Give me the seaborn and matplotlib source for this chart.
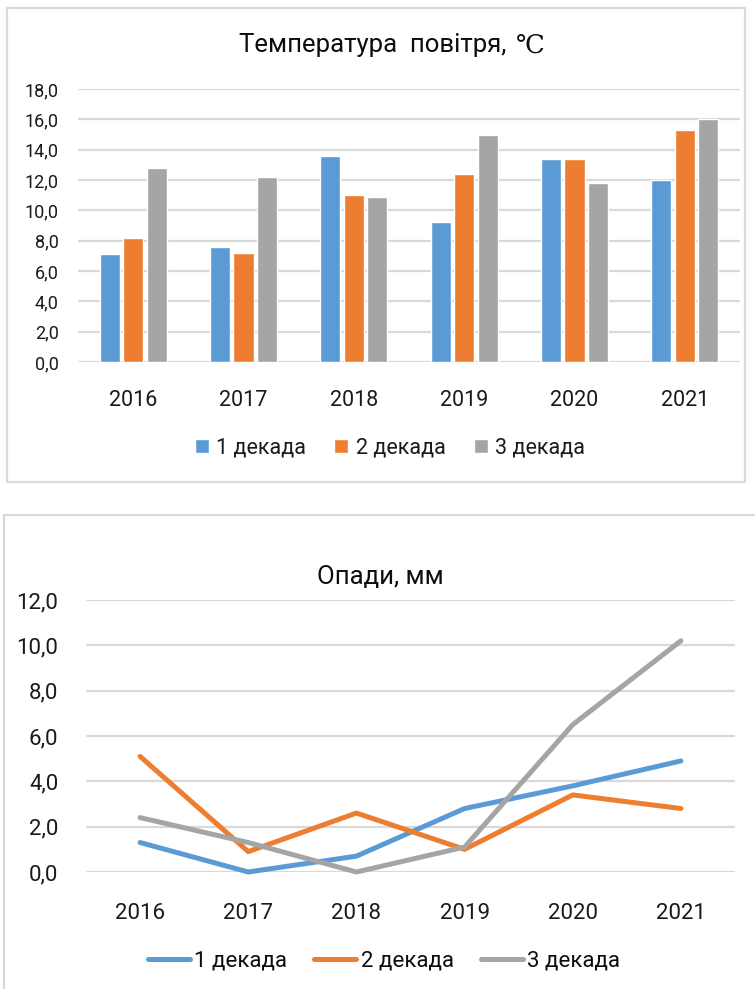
import matplotlib
matplotlib.use('agg')
from matplotlib import pyplot as plt
from matplotlib.patches import Rectangle
from matplotlib.ticker import FuncFormatter
import seaborn as sns
import pandas as pd

years = ['2016', '2017', '2018', '2019', '2020', '2021']
decades = ['1 декада', '2 декада', '3 декада']

# air temperature, deg C
temp_d1 = [7.1, 7.6, 13.6, 9.2, 13.4, 12.0]
temp_d2 = [8.2, 7.2, 11.0, 12.4, 13.4, 15.3]
temp_d3 = [12.8, 12.2, 10.9, 15.0, 11.8, 16.0]

# precipitation, mm
rain_d1 = [1.3, 0.0, 0.7, 2.8, 3.8, 4.9]
rain_d2 = [5.1, 0.9, 2.6, 1.0, 3.4, 2.8]
rain_d3 = [2.4, 1.3, 0.0, 1.1, 6.5, 10.2]

colors = ['#5B9BD5', '#ED7D31', '#A5A5A5']
grid_color = '#D9D9D9'


def long_table(series):
    rows = []
    for name, vals in zip(decades, series):
        for y, v in zip(years, vals):
            rows.append({'year': y, 'decade': name, 'value': v})
    return pd.DataFrame(rows)


temp_df = long_table([temp_d1, temp_d2, temp_d3])
rain_df = long_table([rain_d1, rain_d2, rain_d3])

sns.set_style('white')
plt.rcParams['font.family'] = ['Roboto', 'DejaVu Sans']
plt.rcParams['lines.solid_capstyle'] = 'round'

W, H = 755, 989
fig = plt.figure(figsize=(W / 100, H / 100), dpi=100)


def px_axes(left, top, right, bottom):
    return fig.add_axes([left / W, 1 - bottom / H, (right - left) / W, (bottom - top) / H])


def comma(v, pos):
    return f'{v:.1f}'.replace('.', ',')


def style_axes(ax, ymax, ytick_size, ypad, xpad):
    ax.set_ylim(0, ymax)
    ax.set_yticks(range(0, ymax + 1, 2))
    ax.yaxis.set_major_formatter(FuncFormatter(comma))
    ax.set_xlim(-0.5, 5.5)
    ax.grid(axis='y', color=grid_color, linewidth=1.6)
    ax.set_axisbelow(True)
    for s in ax.spines.values():
        s.set_visible(False)
    ax.tick_params(axis='y', length=0, pad=ypad, labelsize=ytick_size, colors='#1a1a1a')
    ax.tick_params(axis='x', length=0, pad=xpad, labelsize=15.5, colors='#1a1a1a')
    ax.set_xlabel('')
    ax.set_ylabel('')


# chart frames
fig.patches.append(Rectangle((7 / W, 1 - 482 / H), 738 / W, 474 / H, transform=fig.transFigure,
                             fill=False, edgecolor=grid_color, linewidth=1.6))
fig.patches.append(Rectangle((4 / W, 1 - 1000 / H), 800 / W, 485 / H, transform=fig.transFigure,
                             fill=False, edgecolor=grid_color, linewidth=1.6))

# top: bar chart
ax1 = px_axes(78, 89, 740, 362)
sns.barplot(data=temp_df, x='year', y='value', hue='decade', palette=colors,
            width=0.64, gap=0.15, ax=ax1, saturation=1)
style_axes(ax1, 18, 13, 14, 20)
h1, l1 = ax1.get_legend_handles_labels()
ax1.get_legend().remove()
fig.legend(h1, l1, loc='center', bbox_to_anchor=(390 / W, 1 - 448 / H), ncol=3,
           frameon=False, fontsize=15.5, handlelength=0.65, handleheight=0.65,
           handletextpad=0.35, columnspacing=1.3, labelcolor='#1a1a1a')
fig.text(506 / W, 1 - 45 / H, 'Температура  повітря,', ha='right', va='center',
         fontsize=18.5, color='#0d0d0d')
fig.text(516 / W, 1 - 45 / H, '℃', ha='left', va='center',
         fontsize=18.5, color='#0d0d0d', family=['DejaVu Serif'])

# bottom: line chart
ax2 = px_axes(86, 600, 735, 872)
sns.lineplot(data=rain_df, x='year', y='value', hue='decade', palette=colors,
             linewidth=3.6, sort=False, ax=ax2, clip_on=False)
style_axes(ax2, 12, 16, 20, 22)
ax2.tick_params(axis='x', labelsize=16)
h2, l2 = ax2.get_legend_handles_labels()
ax2.get_legend().remove()
fig.legend(h2, l2, loc='center', bbox_to_anchor=(384 / W, 1 - 961 / H), ncol=3,
           frameon=False, fontsize=16, handlelength=1.9, handletextpad=0.2,
           columnspacing=1.2, labelcolor='#0d0d0d')
fig.text(380 / W, 1 - 577 / H, 'Опади, мм', ha='center', va='center',
         fontsize=18.5, color='#0d0d0d')

fig.savefig('out.png', dpi=100)
plt.close(fig)
